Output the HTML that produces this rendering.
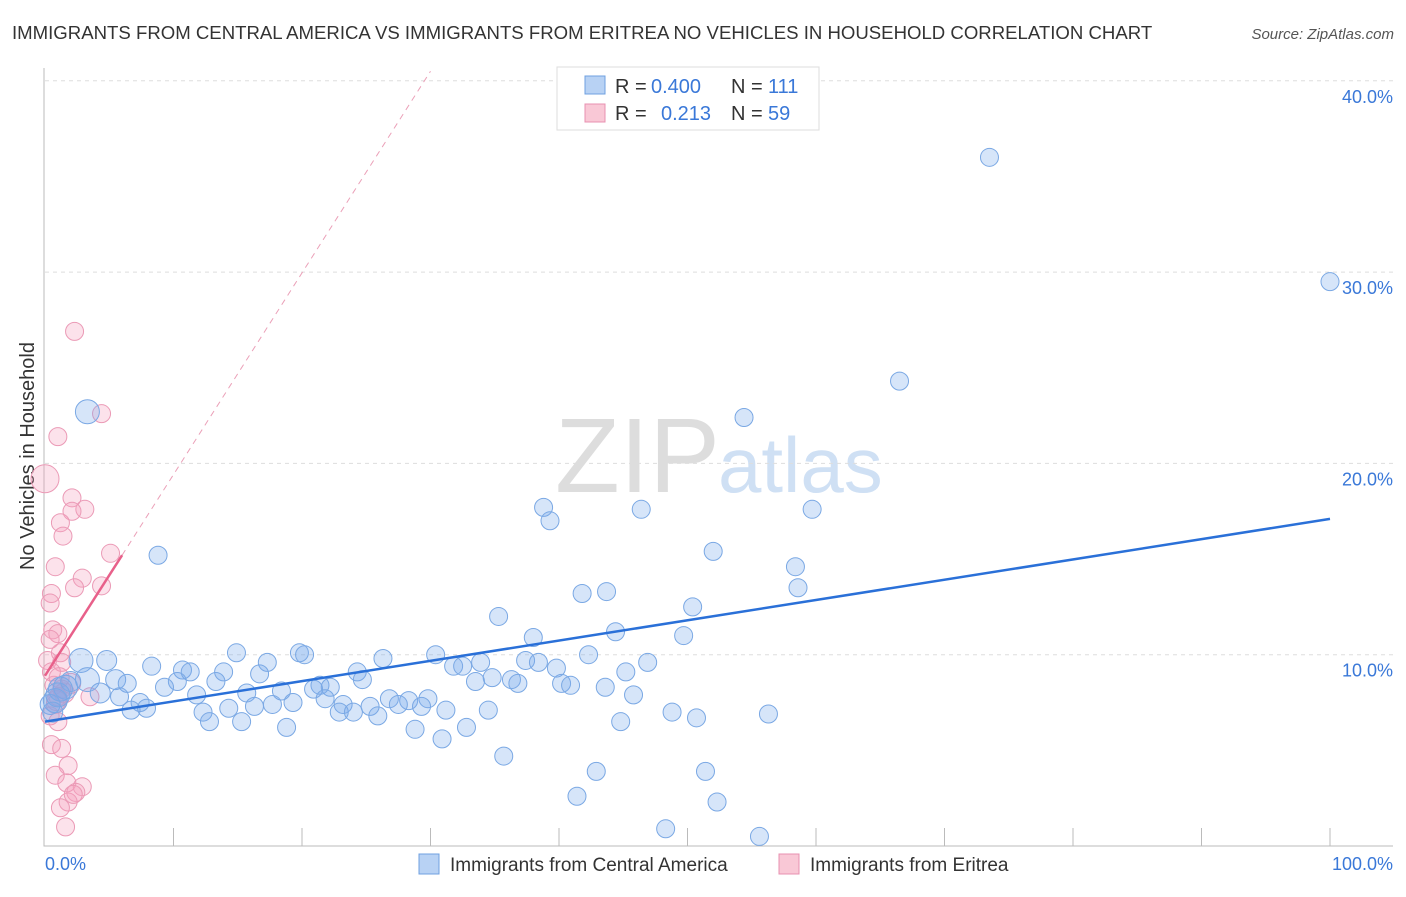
<!DOCTYPE html>
<html><head><meta charset="utf-8"><style>
body{margin:0;background:#fff;font-family:"Liberation Sans",sans-serif}
svg text{font-family:"Liberation Sans",sans-serif}
</style></head><body>
<svg id="c" width="1406" height="892">
<text x="12" y="39" font-size="18.6" fill="#333">IMMIGRANTS FROM CENTRAL AMERICA VS IMMIGRANTS FROM ERITREA NO VEHICLES IN HOUSEHOLD CORRELATION CHART</text>
<text x="1394" y="39" font-size="15" fill="#555" font-style="italic" text-anchor="end">Source: ZipAtlas.com</text>
<text x="555" y="492" font-size="106" fill="#ddd" font-family="Liberation Serif">ZIP</text>
<text x="718" y="492" font-size="78" fill="#cfe0f4">atlas</text>
<text transform="translate(34,456) rotate(-90)" font-size="20" fill="#333" text-anchor="middle">No Vehicles in Household</text>
<g id="grid"></g><g id="pts"></g><g id="lines"></g>
<g>
<rect x="557" y="67" width="262" height="63" fill="#fff" stroke="#ddd"/>
<rect x="585" y="76" width="20" height="18" fill="#b8d2f4" stroke="#6fa0e0"/>
<rect x="585" y="104" width="20" height="18" fill="#f9c8d6" stroke="#e890b0"/>
<text x="615" y="93" font-size="20" fill="#333">R =</text>
<text x="651" y="93" font-size="20" fill="#3a78d8">0.400</text>
<text x="731" y="93" font-size="20" fill="#333">N =</text>
<text x="768" y="93" font-size="20" fill="#3a78d8">111</text>
<text x="615" y="120" font-size="20" fill="#333">R =</text>
<text x="661" y="120" font-size="20" fill="#3a78d8">0.213</text>
<text x="731" y="120" font-size="20" fill="#333">N =</text>
<text x="768" y="120" font-size="20" fill="#3a78d8">59</text>
</g>
<text x="45" y="870" font-size="18" fill="#3a78d8">0.0%</text>
<text x="1393" y="870" font-size="18" fill="#3a78d8" text-anchor="end">100.0%</text>
<g>
<rect x="419" y="854" width="20" height="20" fill="#b8d2f4" stroke="#6fa0e0"/>
<text x="450" y="871" font-size="19" fill="#333">Immigrants from Central America</text>
<rect x="779" y="854" width="20" height="20" fill="#f9c8d6" stroke="#e890b0"/>
<text x="810" y="871" font-size="19" fill="#333">Immigrants from Eritrea</text>
</g>
</svg>
<script>
const yTicks=[10,20,30,40];
const yTickLabels=["10.0%","20.0%","30.0%","40.0%"];
const blueX=[73.5,100,66.5,54.4,3.3,38.8,39.3,46.4,59.7,52.0,8.8,58.4,58.6,41.8,43.7,50.4,35.3,44.4,38.0,49.7,14.9,19.8,20.2,30.4,26.3,42.3,2.8,4.8,8.3,17.3,31.8,32.5,33.9,37.4,38.4,46.9,10.7,11.3,13.9,16.7,24.3,39.8,45.2,24.7,33.5,34.8,36.3,36.8,40.2,40.9,3.3,5.5,6.4,10.3,13.3,21.4,22.2,1.6,9.3,15.7,18.4,20.9,43.6,45.8,4.3,5.8,11.8,26.8,28.3,29.8,7.4,7.9,16.3,17.7,19.3,21.8,23.2,25.3,27.5,29.3,0.8,6.7,12.3,14.3,22.9,24.0,25.9,31.2,34.5,48.8,56.3,12.8,15.3,44.8,50.7,18.8,28.8,32.8,30.9,35.7,42.9,51.4,41.4,52.3,48.3,55.6,1.2,0.4,1.0,2.0,0.6];
const blueY=[36.0,29.5,24.3,22.4,22.7,17.7,17.0,17.6,17.6,15.4,15.2,14.6,13.5,13.2,13.3,12.5,12.0,11.2,10.9,11.0,10.1,10.1,10.0,10.0,9.8,10.0,9.7,9.7,9.4,9.6,9.4,9.4,9.6,9.7,9.6,9.6,9.2,9.1,9.1,9.0,9.1,9.3,9.1,8.7,8.6,8.8,8.7,8.5,8.5,8.4,8.7,8.7,8.5,8.6,8.6,8.4,8.3,8.3,8.3,8.0,8.1,8.2,8.3,7.9,8.0,7.8,7.9,7.7,7.6,7.7,7.5,7.2,7.3,7.4,7.5,7.7,7.4,7.3,7.4,7.3,7.6,7.1,7.0,7.2,7.0,7.0,6.8,7.1,7.1,7.0,6.9,6.5,6.5,6.5,6.7,6.2,6.1,6.2,5.6,4.7,3.9,3.9,2.6,2.3,0.9,0.5,8.2,7.4,7.9,8.6,7.0];
const blueR=[9,9,9,9,12,9,9,9,9,9,9,9,9,9,9,9,9,9,9,9,9,9,9,9,9,9,12,10,9,9,9,9,9,9,9,9,9,9,9,9,9,9,9,9,9,9,9,9,9,9,12,10,9,9,9,9,9,12,9,9,9,9,9,9,10,9,9,9,9,9,9,9,9,9,9,9,9,9,9,9,12,9,9,9,9,9,9,9,9,9,9,9,9,9,9,9,9,9,9,9,9,9,9,9,9,9,12,10,12,10,10];
const pinkX=[2.3,4.4,1.0,0,2.1,3.1,2.1,1.2,1.4,5.1,0.8,2.9,2.3,4.4,0.5,0.4,0.6,1.0,0.4,1.2,0.2,1.3,0.5,0.7,1.3,1.0,3.5,0.8,0.4,1.0,0.5,1.3,1.8,0.8,1.7,2.9,2.4,1.8,1.2,1.6,2.2,1.5,2.0,0.9,1.1];
const pinkY=[26.9,22.6,21.4,19.2,18.2,17.6,17.5,16.9,16.2,15.3,14.6,14.0,13.5,13.6,13.2,12.7,11.3,11.1,10.8,10.1,9.7,9.6,9.1,8.4,8.2,7.8,7.8,7.4,6.8,6.5,5.3,5.1,4.2,3.7,3.3,3.1,2.8,2.3,2.0,1.0,2.7,8.0,8.5,7.6,8.8];
const pinkR=[9,9,9,14,9,9,9,9,9,9,9,9,9,9,9,9,9,9,9,9,9,9,9,9,9,9,9,9,9,9,9,9,9,9,9,9,9,9,9,9,9,10,10,10,10];
const blueTrend=[[0,6.5],[100,17.1]];
const pinkTrend=[[0,8.9],[6,15.2]];
const pinkDash=[[6,15.2],[30,40.5]];
const X=v=>45+v*12.85, Y=v=>846-v*19.13;
const NS="http://www.w3.org/2000/svg";
function mk(tag,attrs,parent){const e=document.createElementNS(NS,tag);for(const k in attrs)e.setAttribute(k,attrs[k]);parent.appendChild(e);return e;}
const g=document.getElementById('grid'),p=document.getElementById('pts'),l=document.getElementById('lines');
yTicks.forEach((t,i)=>{
 const ln=mk('line',{x1:45,x2:1393,y1:Y(t),y2:Y(t),stroke:'#ddd','stroke-dasharray':'4,4'},g);
 
 
 const tx=mk('text',{x:1393,y:Y(t)+22,'font-size':18,fill:'#3a78d8','text-anchor':'end'},g);
 tx.textContent=yTickLabels[i];
 
 
});
const ax=mk('path',{d:'M44,68V846H1393',stroke:'#bbb',fill:'none'},g);


for(let k=1;k<=10;k++){const t=mk('line',{x1:X(k*10),x2:X(k*10),y1:828,y2:846,stroke:'#bbb'},g);
 
 }
pinkX.forEach((v,i)=>{const c=mk('circle',{cx:X(v),cy:Y(pinkY[i]),r:pinkR[i],fill:'rgba(244,160,188,0.3)',stroke:'#eb9ab6','stroke-width':1},p);
 
 });
blueX.forEach((v,i)=>{const c=mk('circle',{cx:X(v),cy:Y(blueY[i]),r:blueR[i],fill:'rgba(120,170,235,0.3)',stroke:'#7aa8e4','stroke-width':1},p);
 
 });
const bt=mk('line',{x1:X(blueTrend[0][0]),y1:Y(blueTrend[0][1]),x2:X(blueTrend[1][0]),y2:Y(blueTrend[1][1]),stroke:'#2a70d8','stroke-width':2.5},l);


const pt=mk('line',{x1:X(pinkTrend[0][0]),y1:Y(pinkTrend[0][1]),x2:X(pinkTrend[1][0]),y2:Y(pinkTrend[1][1]),stroke:'#e8608a','stroke-width':2.5},l);


const pd=mk('line',{x1:X(pinkDash[0][0]),y1:Y(pinkDash[0][1]),x2:X(pinkDash[1][0]),y2:Y(pinkDash[1][1]),stroke:'#eba0b8','stroke-width':1,'stroke-dasharray':'6,5'},l);


</script>
</body></html>
